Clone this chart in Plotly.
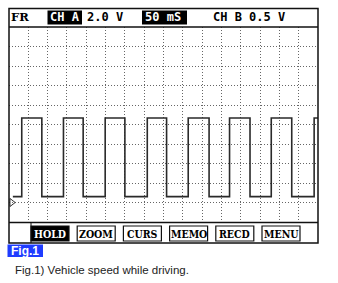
import plotly.graph_objects as go

# ---- data ----
rise_ms = [33, 141, 249, 358, 464, 571, 679, 790]
fall_ms = [85, 192, 300, 408, 518, 624, 732]
high_v = 8.66
low_v = 0.6
start_ms = 10
end_ms = 800

header_texts = ["FR", "CH A", "2.0 V", "50 mS", "CH B 0.5 V"]
buttons = ["HOLD", "ZOOM", "CURS", "MEMO", "RECD", "MENU"]
caption = "Fig.1) Vehicle speed while driving."
fig_label = "Fig.1"

# ---- build step trace ----
xs = [start_ms]
ys = [low_v]
edges = sorted([(t, high_v) for t in rise_ms] + [(t, low_v) for t in fall_ms])
for t, v in edges:
    xs.append(t)
    ys.append(v)
xs.append(end_ms)
ys.append(ys[-1])

W, H = 338, 283
L, R, T, B = 9, 318, 27, 222


def px(x):
    return (x - L) / (R - L)


def py(y):
    return (B - y) / (B - T)


fig = go.Figure()
fig.add_trace(go.Scatter(x=xs, y=ys, mode="lines", line_shape="hv",
                         line=dict(color="#2a2a2a", width=1.6),
                         hoverinfo="skip", showlegend=False))
# ground marker
fig.add_trace(go.Scatter(x=[7], y=[0], mode="markers",
                         marker=dict(symbol="triangle-right-open", size=7,
                                     color="#333", line=dict(width=1)),
                         hoverinfo="skip", showlegend=False))

grid = dict(showgrid=True, gridcolor="#666", gridwidth=1, griddash="1px,2px",
            showticklabels=False, ticks="", zeroline=False, showline=False,
            fixedrange=True)
fig.update_xaxes(range=[0, 800], dtick=50, tick0=0, **grid)
fig.update_yaxes(range=[-2, 18], dtick=2, tick0=0, **grid)

shapes = []
black = "#111"
# outer frame
shapes.append(dict(type="rect", xref="paper", yref="paper",
                   x0=px(9), x1=px(318), y0=py(243), y1=py(8.5),
                   line=dict(color=black, width=1.5)))
# header separator
shapes.append(dict(type="line", xref="paper", yref="paper",
                   x0=px(9), x1=px(318), y0=py(27), y1=py(27),
                   line=dict(color=black, width=1.5)))
# button bar top
shapes.append(dict(type="line", xref="paper", yref="paper",
                   x0=px(9), x1=px(318), y0=py(222.5), y1=py(222.5),
                   line=dict(color=black, width=1.5)))
# left cell separator
shapes.append(dict(type="line", xref="paper", yref="paper",
                   x0=px(31), x1=px(31), y0=py(243), y1=py(222.5),
                   line=dict(color=black, width=1)))
# header inverse boxes
shapes.append(dict(type="rect", xref="paper", yref="paper",
                   x0=px(47.5), x1=px(82), y0=py(24.5), y1=py(10.5),
                   fillcolor="black", line=dict(width=0)))
shapes.append(dict(type="rect", xref="paper", yref="paper",
                   x0=px(142), x1=px(187), y0=py(24.5), y1=py(10.5),
                   fillcolor="black", line=dict(width=0)))

annotations = []
hfont = dict(family="DejaVu Sans Mono", size=12, color="black")
header_pos = [(8.5, "black"), (47.5, "white"), (85, "black"), (143, "white"), (211, "black")]
for txt, (x, col) in zip(header_texts, header_pos):
    f = dict(hfont)
    f["color"] = col
    if txt == "FR":
        f["family"] = "DejaVu Serif"
        f["size"] = 11.5
    annotations.append(dict(text="<b>" + txt + "</b>", x=px(x), y=py(17.5),
                            xref="paper", yref="paper", xanchor="left",
                            yanchor="middle", showarrow=False, font=f))

# buttons
bx0, bw, pitch = 31, 38, 46.2
for i, b in enumerate(buttons):
    x0 = bx0 + i * pitch
    x1 = x0 + bw
    fill = "black" if i == 0 else "white"
    shapes.append(dict(type="rect", xref="paper", yref="paper",
                       x0=px(x0), x1=px(x1), y0=py(241), y1=py(226),
                       fillcolor=fill, line=dict(color=black, width=1.2)))
    annotations.append(dict(text="<b>" + b + "</b>", x=px((x0 + x1) / 2), y=py(233.8),
                            xref="paper", yref="paper", xanchor="center",
                            yanchor="middle", showarrow=False,
                            font=dict(family="DejaVu Serif Condensed", size=10.5,
                                      color="white" if i == 0 else "black")))

# Fig.1 label
shapes.append(dict(type="rect", xref="paper", yref="paper",
                   x0=px(7.5), x1=px(43), y0=py(257), y1=py(244.5),
                   fillcolor="#1f3cff", line=dict(width=0)))
annotations.append(dict(text="<b>" + fig_label + "</b>", x=px(25.2), y=py(251),
                        xref="paper", yref="paper", xanchor="center",
                        yanchor="middle", showarrow=False,
                        font=dict(family="Liberation Sans", size=12, color="white")))
annotations.append(dict(text=caption, x=px(13), y=py(269.5),
                        xref="paper", yref="paper", xanchor="left",
                        yanchor="middle", showarrow=False,
                        font=dict(family="Liberation Sans", size=11.5, color="#222")))

fig.update_layout(width=W, height=H,
                  margin=dict(l=L, r=W - R, t=T, b=H - B, pad=0),
                  paper_bgcolor="white", plot_bgcolor="white",
                  shapes=shapes, annotations=annotations, showlegend=False)

fig.write_html("out.html", config=dict(displayModeBar=False))
